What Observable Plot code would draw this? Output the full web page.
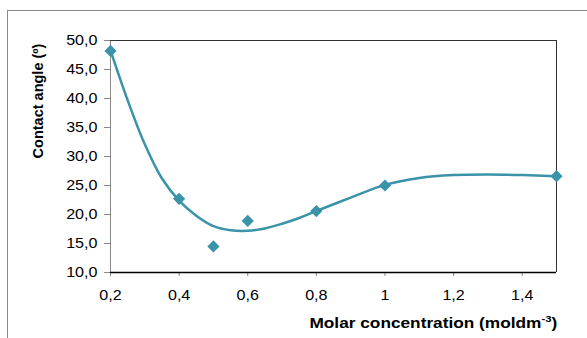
<!DOCTYPE html>
<html><head><meta charset="utf-8">
<script src="https://cdn.jsdelivr.net/npm/d3@7"></script>
<script src="https://cdn.jsdelivr.net/npm/@observablehq/plot@0.6"></script>
<style>
body{margin:0;background:#fff;}
#wrap{position:relative;width:587px;height:338px;overflow:hidden;font-family:"Liberation Sans",Arial,sans-serif;}
#frame{position:absolute;left:7px;top:10px;width:600px;height:400px;border-top:1px solid #8a8a8a;border-left:1px solid #8a8a8a;box-sizing:border-box;}
#chart{position:absolute;left:0;top:0;}
#ytitle{position:absolute;left:38px;top:101px;transform:translate(-50%,-50%) rotate(-90deg);font-weight:bold;font-size:14.5px;white-space:nowrap;color:#000;}
#xtitle{position:absolute;right:30px;top:313px;font-weight:bold;font-size:14.5px;white-space:nowrap;color:#000;transform:scaleX(1.19);transform-origin:right center;}
#xtitle sup{font-size:9.5px;}
</style></head><body>
<div id="wrap"><div id="frame"></div><div id="chart"></div>
<div id="ytitle">Contact angle (º)</div>
<div id="xtitle">Molar concentration (moldm<sup>-3</sup>)</div>
</div>
<script>
// measured points
const concentration = [0.2, 0.4, 0.5, 0.6, 0.8, 1.0, 1.5];
const contactAngle = [48.2, 22.7, 14.5, 18.9, 20.6, 25.0, 26.6];
// smooth trend curve
const trendX = [0.2, 0.25, 0.3, 0.35, 0.4, 0.45, 0.5, 0.55, 0.6, 0.65, 0.7, 0.75, 0.8, 0.9, 1.0, 1.1, 1.2, 1.3, 1.4, 1.5];
const trendY = [48.3, 39.7, 32.1, 26.2, 22.4, 19.8, 18.0, 17.3, 17.2, 17.6, 18.4, 19.4, 20.6, 22.9, 25.1, 26.3, 26.8, 26.9, 26.8, 26.6];
const xTicks = [0.2, 0.4, 0.6, 0.8, 1.0, 1.2, 1.4];
const yTicks = [10, 15, 20, 25, 30, 35, 40, 45, 50];

const data = concentration.map((c, i) => ({c, a: contactAngle[i]}));
const trend = trendX.map((c, i) => ({c, a: trendY[i]}));

const fmtX = d => String(+d.toFixed(1)).replace(".", ",");
const fmtY = d => d3.format(".1f")(d).replace(".", ",");
const teal = "#3a93a8";

const plot = Plot.plot({
  width: 587,
  height: 338,
  marginLeft: 110,
  marginRight: 31,
  marginTop: 40,
  marginBottom: 66,
  style: {fontFamily: "'Liberation Sans', Arial, sans-serif", fontSize: "14px", background: "transparent", color: "#000"},
  x: {domain: [0.2, 1.5], label: null},
  y: {domain: [10, 50], label: null},
  marks: [
    Plot.axisX({ticks: xTicks, tickSize: 4, tickPadding: 14, stroke: "#888", fill: "#000", tickFormat: fmtX, label: null}),
    Plot.axisY({ticks: yTicks, tickSize: 6, tickPadding: 7, stroke: "#888", fill: "#000", tickFormat: fmtY, label: null}),
    Plot.ruleX([0.2], {stroke: "#888", strokeWidth: 1}),
    Plot.ruleX([1.5], {stroke: "#333", strokeWidth: 1}),
    Plot.ruleY([50], {stroke: "#333", strokeWidth: 1}),
    Plot.ruleY([10], {stroke: "#000", strokeWidth: 1.5}),
    Plot.line(trend, {x: "c", y: "a", stroke: teal, strokeWidth: 2.5, curve: "catmull-rom"}),
    Plot.dot(data, {x: "c", y: "a", symbol: "diamond2", r: 5.5, fill: teal, stroke: "none"})
  ]
});
// the reference's horizontal text is slightly stretched
d3.select(plot).selectAll("g[aria-label='x-axis tick label'] text, g[aria-label='y-axis tick label'] text")
  .attr("transform", function() { return (this.getAttribute("transform") || "") + " scale(1.15,1)"; });
document.getElementById("chart").appendChild(plot);
</script>
</body></html>
